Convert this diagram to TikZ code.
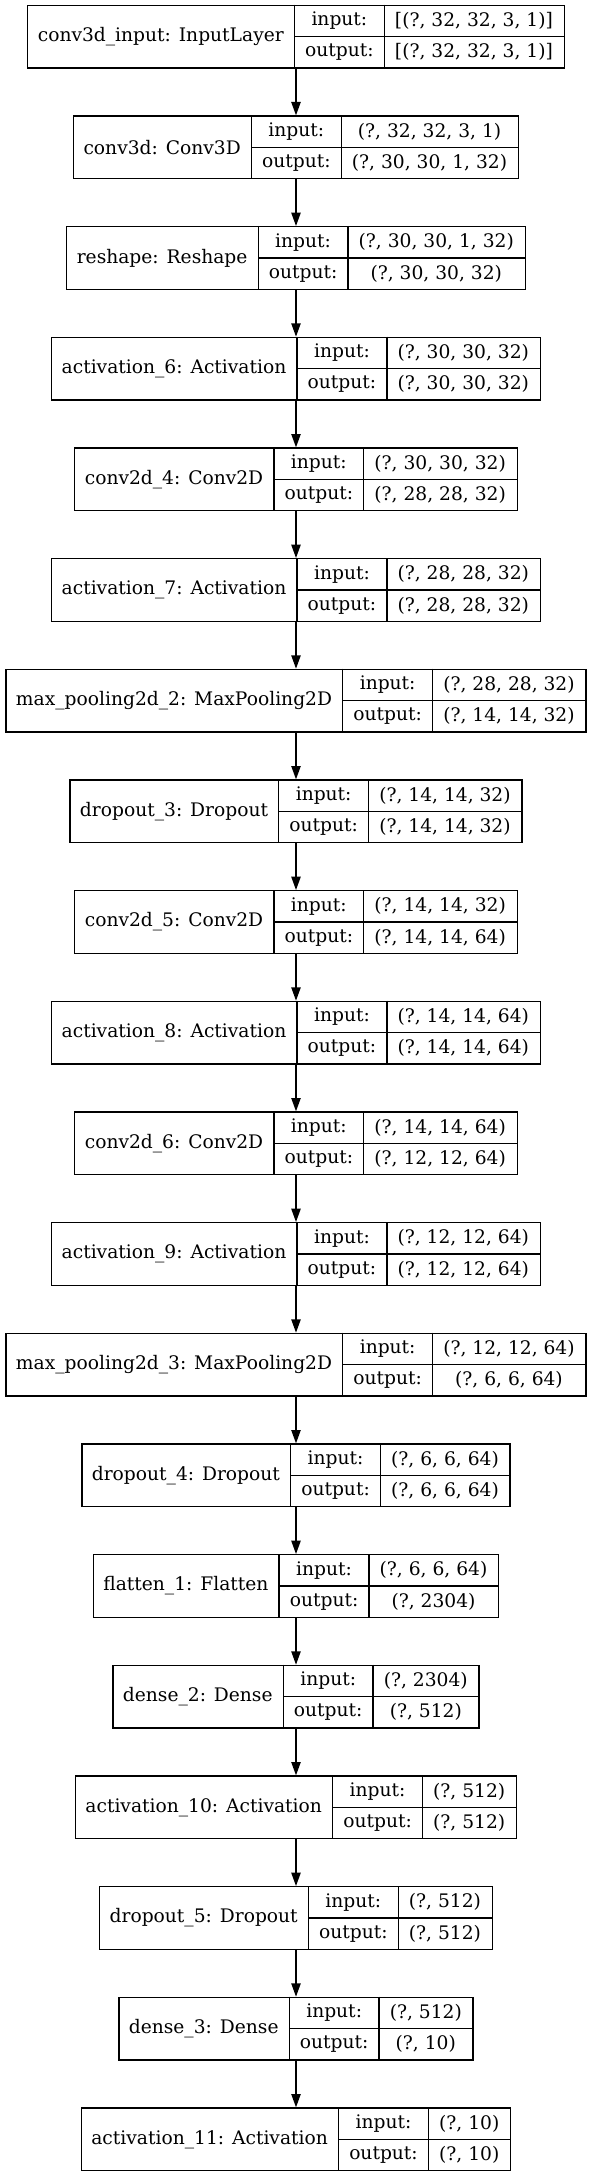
\documentclass[tikz,border=0pt]{standalone}
\usepackage{fontspec}
\setmainfont{DejaVu Serif}
\usetikzlibrary{arrows.meta}
\newlength\lyLw
\newlength\lyM
\newlength\lyV
\newlength\lyTmp
\newlength\lyT
\newcommand\lyfont{\fontsize{14pt}{16.8pt}\selectfont}
\newcommand\layer[5]{%
  \pgfinterruptpicture
  \settowidth\lyLw{\lyfont #3}\global\lyLw=\lyLw
  \settowidth\lyM{\lyfont output:}\global\lyM=\lyM
  \settowidth\lyV{\lyfont #4}\settowidth\lyTmp{\lyfont #5}%
  \ifdim\lyTmp>\lyV \lyV=\lyTmp\fi
  \global\lyV=\lyV
  \endpgfinterruptpicture
  \global\advance\lyLw by 16pt
  \global\advance\lyM by 16pt
  \global\advance\lyV by 16pt
  \lyT=\lyLw \advance\lyT by \lyM \advance\lyT by \lyV
  \node[lbox, minimum width=\lyT] (#1) at (222pt,{-27.5pt-83pt*#2}) {};
  \draw[ln] ([xshift=\lyLw]#1.north west) -- ([xshift=\lyLw]#1.south west);
  \draw[ln] ([xshift=\lyLw+\lyM]#1.north west) -- ([xshift=\lyLw+\lyM]#1.south west);
  \draw[ln] ([xshift=\lyLw]#1.west) -- (#1.east);
  \node[txt] (#1-l) at ([xshift=0.5*\lyLw]#1.west) {#3};
  \node[txt] (#1-a) at ([xshift=\lyLw+0.5*\lyM, yshift=11.75pt]#1.west) {input:};
  \node[txt] (#1-b) at ([xshift=\lyLw+0.5*\lyM, yshift=-11.75pt]#1.west) {output:};
  \node[txt] (#1-i) at ([xshift=\lyLw+\lyM+0.5*\lyV, yshift=11.75pt]#1.west) {#4};
  \node[txt] (#1-o) at ([xshift=\lyLw+\lyM+0.5*\lyV, yshift=-11.75pt]#1.west) {#5};
}
\begin{document}
\begin{tikzpicture}[
  lbox/.style={draw=black, line width=1pt, minimum height=47pt, inner sep=0pt},
  ln/.style={draw=black, line width=1pt},
  txt/.style={inner sep=0pt, font=\lyfont},
  arr/.style={draw=black, line width=1pt, -{Triangle[length=10pt,width=7pt]}}
]
\useasboundingbox (0,0) rectangle (444pt,-1632pt);
\layer{n1}{0}{conv3d\_input: InputLayer}{[(?, 32, 32, 3, 1)]}{[(?, 32, 32, 3, 1)]}
\layer{n2}{1}{conv3d: Conv3D}{(?, 32, 32, 3, 1)}{(?, 30, 30, 1, 32)}
\layer{n3}{2}{reshape: Reshape}{(?, 30, 30, 1, 32)}{(?, 30, 30, 32)}
\layer{n4}{3}{activation\_6: Activation}{(?, 30, 30, 32)}{(?, 30, 30, 32)}
\layer{n5}{4}{conv2d\_4: Conv2D}{(?, 30, 30, 32)}{(?, 28, 28, 32)}
\layer{n6}{5}{activation\_7: Activation}{(?, 28, 28, 32)}{(?, 28, 28, 32)}
\layer{n7}{6}{max\_pooling2d\_2: MaxPooling2D}{(?, 28, 28, 32)}{(?, 14, 14, 32)}
\layer{n8}{7}{dropout\_3: Dropout}{(?, 14, 14, 32)}{(?, 14, 14, 32)}
\layer{n9}{8}{conv2d\_5: Conv2D}{(?, 14, 14, 32)}{(?, 14, 14, 64)}
\layer{n10}{9}{activation\_8: Activation}{(?, 14, 14, 64)}{(?, 14, 14, 64)}
\layer{n11}{10}{conv2d\_6: Conv2D}{(?, 14, 14, 64)}{(?, 12, 12, 64)}
\layer{n12}{11}{activation\_9: Activation}{(?, 12, 12, 64)}{(?, 12, 12, 64)}
\layer{n13}{12}{max\_pooling2d\_3: MaxPooling2D}{(?, 12, 12, 64)}{(?, 6, 6, 64)}
\layer{n14}{13}{dropout\_4: Dropout}{(?, 6, 6, 64)}{(?, 6, 6, 64)}
\layer{n15}{14}{flatten\_1: Flatten}{(?, 6, 6, 64)}{(?, 2304)}
\layer{n16}{15}{dense\_2: Dense}{(?, 2304)}{(?, 512)}
\layer{n17}{16}{activation\_10: Activation}{(?, 512)}{(?, 512)}
\layer{n18}{17}{dropout\_5: Dropout}{(?, 512)}{(?, 512)}
\layer{n19}{18}{dense\_3: Dense}{(?, 512)}{(?, 10)}
\layer{n20}{19}{activation\_11: Activation}{(?, 10)}{(?, 10)}
\foreach \a/\b in {n1/n2,n2/n3,n3/n4,n4/n5,n5/n6,n6/n7,n7/n8,n8/n9,n9/n10,n10/n11,n11/n12,n12/n13,n13/n14,n14/n15,n15/n16,n16/n17,n17/n18,n18/n19,n19/n20}
  \draw[arr] (\a.south) -- (\b.north);
\end{tikzpicture}
\end{document}
